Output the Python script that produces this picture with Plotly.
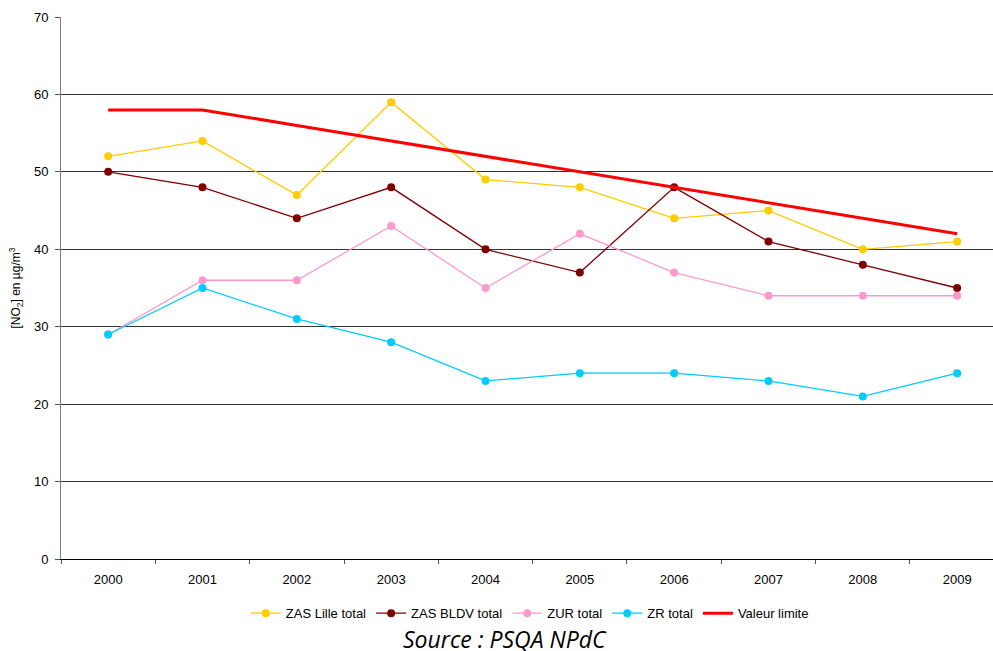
import plotly.graph_objects as go

years = ["2000", "2001", "2002", "2003", "2004", "2005", "2006", "2007", "2008", "2009"]
zas_lille = [52, 54, 47, 59, 49, 48, 44, 45, 40, 41]
zas_bldv = [50, 48, 44, 48, 40, 37, 48, 41, 38, 35]
zur = [29, 36, 36, 43, 35, 42, 37, 34, 34, 34]
zr = [29, 35, 31, 28, 23, 24, 24, 23, 21, 24]
valeur_limite = [58, 58, 56, 54, 52, 50, 48, 46, 44, 42]

FONT = "Liberation Sans, Arial, sans-serif"

fig = go.Figure()

series = [
    ("ZAS Lille total", zas_lille, "#FFCC00"),
    ("ZAS BLDV total", zas_bldv, "#800000"),
    ("ZUR total", zur, "#FF99CC"),
    ("ZR total", zr, "#00CCFF"),
]
for name, vals, col in series:
    fig.add_trace(go.Scatter(
        x=years, y=vals, name=name, mode="lines+markers",
        line=dict(color=col, width=1.3),
        marker=dict(color=col, size=8),
    ))

fig.add_trace(go.Scatter(
    x=years, y=valeur_limite, name="Valeur limite", mode="lines",
    line=dict(color="#FF0000", width=3),
))

fig.add_annotation(
    text="<i>Source : PSQA NPdC</i>", xref="paper", yref="paper",
    x=0.476, y=-0.148, xanchor="center", yanchor="middle", showarrow=False,
    font=dict(family="Open Sans, sans-serif", size=23, color="#000000"),
)

fig.update_layout(
    width=993, height=651,
    paper_bgcolor="white", plot_bgcolor="white",
    margin=dict(l=61, r=0, t=17, b=92),
    font=dict(family=FONT, size=12, color="#000000"),
    showlegend=True,
    legend=dict(
        orientation="h", x=0.503, y=-0.1, xanchor="center", yanchor="middle",
        font=dict(size=13), itemwidth=30, tracegroupgap=0,
    ),
    xaxis=dict(
        type="category", range=[-0.5, 9.38], automargin=False,
        showgrid=False, showline=True, linecolor="#000000", linewidth=1,
        ticks="outside", tickson="boundaries", ticklen=4, tickcolor="#555555",
        tickfont=dict(size=13, color="#000000"), ticklabelstandoff=8,
    ),
    yaxis=dict(
        range=[0, 70], dtick=10, automargin=False,
        showgrid=True, gridcolor="#333333", gridwidth=1,
        showline=True, linecolor="#808080", linewidth=1,
        ticks="outside", ticklen=5, tickcolor="#555555",
        tickfont=dict(size=13, color="#000000"), ticklabelstandoff=4,
        zeroline=False,
        title=dict(text="[NO<sub>2</sub>] en µg/m<sup>3</sup>", font=dict(size=12), standoff=10),
    ),
)

fig.write_html("out.html", config={"displayModeBar": False},
               post_script="document.body.style.margin='0';")
